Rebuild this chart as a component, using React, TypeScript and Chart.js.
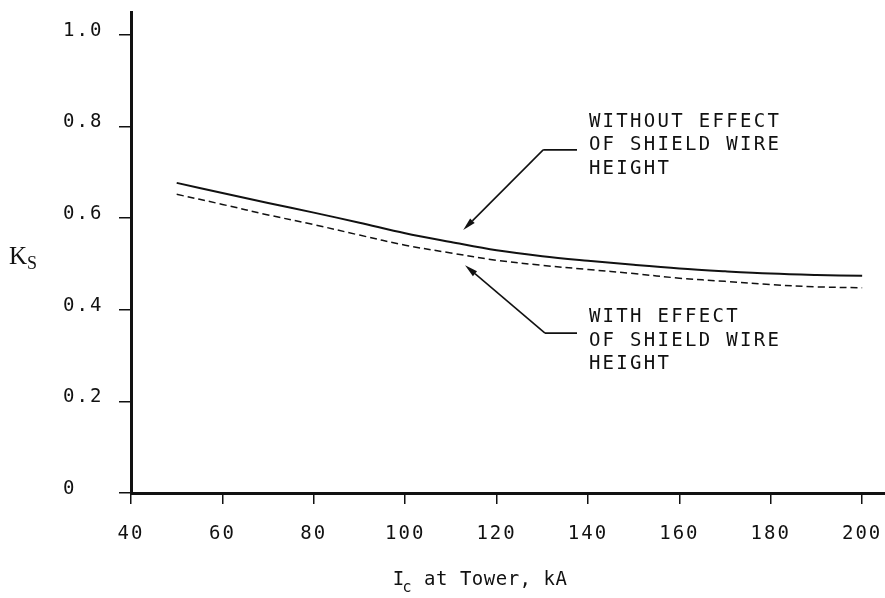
import React, { useEffect, useRef } from "react";
import { Chart, registerables } from "chart.js";

Chart.register(...registerables);

// Current at tower (kA) and shielding factor K_s
const currentKA = [50, 60, 70, 80, 90, 100, 110, 120, 130, 140, 150, 160, 170, 180, 190, 200];
const ksWithoutHeight = [0.677, 0.655, 0.633, 0.612, 0.59, 0.567, 0.548, 0.53, 0.517, 0.507, 0.498, 0.49, 0.484, 0.479, 0.476, 0.474];
const ksWithHeight = [0.652, 0.63, 0.607, 0.586, 0.563, 0.541, 0.524, 0.508, 0.497, 0.488, 0.479, 0.469, 0.462, 0.455, 0.45, 0.448];

const xTickValues = [40, 60, 80, 100, 120, 140, 160, 180, 200];
const yTickValues = [0, 0.2, 0.4, 0.6, 0.8, 1.0];

const labelWithout = ["WITHOUT EFFECT", "OF SHIELD WIRE", "HEIGHT"];
const labelWith = ["WITH EFFECT", "OF SHIELD WIRE", "HEIGHT"];

// Callout geometry in data units: [x (kA), y (K_s)]
const calloutWithout = { tip: [112.7, 0.574], elbow: [130.2, 0.749], tail: [137.6, 0.749], text: [140.2, 0.81] };
const calloutWith = { tip: [113.1, 0.497], elbow: [130.6, 0.349], tail: [137.6, 0.349], text: [140.2, 0.384] };

const INK = "#111111";
const MONO = "DejaVu Sans Mono";

function drawArrow(ctx: CanvasRenderingContext2D, fx: number, fy: number, tx: number, ty: number) {
  const ang = Math.atan2(ty - fy, tx - fx);
  const len = 13;
  const half = 3.2;
  const bx = tx - len * Math.cos(ang);
  const by = ty - len * Math.sin(ang);
  ctx.beginPath();
  ctx.moveTo(fx, fy);
  ctx.lineTo(bx, by);
  ctx.stroke();
  ctx.beginPath();
  ctx.moveTo(tx, ty);
  ctx.lineTo(bx + half * Math.sin(ang), by - half * Math.cos(ang));
  ctx.lineTo(bx - half * Math.sin(ang), by + half * Math.cos(ang));
  ctx.closePath();
  ctx.fill();
}

// Wide plotter-style spacing for the axis tick labels
const spacingPlugin = {
  id: "plotterSpacing",
  beforeUpdate(chart: any) {
    chart.ctx.letterSpacing = "2px";
  },
  beforeDraw(chart: any) {
    chart.ctx.letterSpacing = "2px";
  },
};

const annotationPlugin = {
  id: "figureNotes",
  afterDraw(chart: any) {
    const { ctx, scales } = chart;
    const xs = scales.x;
    const ys = scales.y;
    const px = (v: number) => xs.getPixelForValue(v);
    const py = (v: number) => ys.getPixelForValue(v);

    ctx.save();
    ctx.strokeStyle = INK;
    ctx.fillStyle = INK;
    ctx.lineWidth = 1.6;
    ctx.setLineDash([]);

    // callouts
    for (const c of [calloutWithout, calloutWith]) {
      ctx.beginPath();
      ctx.moveTo(px(c.tail[0]), py(c.tail[1]));
      ctx.lineTo(px(c.elbow[0]), py(c.elbow[1]));
      ctx.stroke();
      drawArrow(ctx, px(c.elbow[0]), py(c.elbow[1]), px(c.tip[0]), py(c.tip[1]));
    }

    ctx.font = `19px "${MONO}"`;
    ctx.letterSpacing = "2.3px";
    ctx.textAlign = "left";
    ctx.textBaseline = "middle";
    const lineGap = 23.5;
    labelWithout.forEach((t, i) => ctx.fillText(t, px(calloutWithout.text[0]), py(calloutWithout.text[1]) + i * lineGap));
    labelWith.forEach((t, i) => ctx.fillText(t, px(calloutWith.text[0]), py(calloutWith.text[1]) + i * lineGap));

    // x-axis title: I_c at Tower, kA
    ctx.letterSpacing = "0.5px";
    const titleY = 580;
    const main = "I";
    const sub = "c";
    const rest = " at Tower, kA";
    ctx.font = `19px "${MONO}"`;
    const wMain = ctx.measureText(main).width;
    const wRest = ctx.measureText(rest).width;
    ctx.font = `15px "${MONO}"`;
    const wSub = ctx.measureText(sub).width;
    const cx = xs.left + 350;
    let x = cx - (wMain + wSub + wRest) / 2;
    ctx.font = `19px "${MONO}"`;
    ctx.fillText(main, x, titleY);
    x += wMain - 2;
    ctx.font = `15px "${MONO}"`;
    ctx.fillText(sub, x, titleY + 8);
    x += wSub;
    ctx.font = `19px "${MONO}"`;
    ctx.fillText(rest, x, titleY);

    // y-axis title: K_s
    ctx.letterSpacing = "0px";
    ctx.textBaseline = "alphabetic";
    ctx.font = `25px "Liberation Serif"`;
    ctx.fillText("K", 9, 264);
    const wK = ctx.measureText("K").width;
    ctx.font = `18px "Liberation Serif"`;
    ctx.fillText("S", 9 + wK, 269);

    ctx.restore();
  },
};

export default function App() {
  const canvasRef = useRef<HTMLCanvasElement | null>(null);

  useEffect(() => {
    const canvas = canvasRef.current;
    if (!canvas) return;

    const toPoints = (ys: number[]) => currentKA.map((x, i) => ({ x, y: ys[i] }));

    const chart = new Chart(canvas, {
      type: "line",
      data: {
        datasets: [
          {
            label: "Without effect of shield wire height",
            data: toPoints(ksWithoutHeight),
            borderColor: INK,
            borderWidth: 2,
            pointRadius: 0,
            tension: 0.35,
            fill: false,
          },
          {
            label: "With effect of shield wire height",
            data: toPoints(ksWithHeight),
            borderColor: INK,
            borderWidth: 1.5,
            borderDash: [7, 4],
            pointRadius: 0,
            tension: 0.35,
            fill: false,
          },
        ],
      },
      options: {
        animation: false,
        responsive: false,
        maintainAspectRatio: false,
        devicePixelRatio: 1,
        layout: { padding: { left: 63, top: 12, right: 0, bottom: 0 } },
        plugins: {
          legend: { display: false },
          tooltip: { enabled: false },
          title: { display: false },
        },
        scales: {
          x: {
            type: "linear",
            min: 40,
            max: 205,
            afterBuildTicks: (scale: any) => {
              scale.ticks = xTickValues.map((value) => ({ value }));
            },
            afterFit: (scale: any) => {
              scale.height = 105;
              scale.paddingLeft = 0;
              scale.paddingRight = 0;
            },
            border: { display: true, color: INK, width: 3 },
            grid: { drawOnChartArea: false, drawTicks: true, tickLength: 11, color: INK, lineWidth: 1.5 },
            ticks: {
              color: INK,
              font: { family: MONO, size: 19 },
              padding: 19,
              maxRotation: 0,
              autoSkip: false,
              callback: (v: any) => String(v),
            },
          },
          y: {
            type: "linear",
            min: 0,
            max: 1.05,
            afterBuildTicks: (scale: any) => {
              scale.ticks = yTickValues.map((value) => ({ value }));
            },
            afterFit: (scale: any) => {
              scale.width = 68;
              scale.paddingTop = 0;
              scale.paddingBottom = 0;
            },
            border: { display: true, color: INK, width: 3 },
            grid: { drawOnChartArea: false, drawTicks: true, tickLength: 12, color: INK, lineWidth: 1.5 },
            ticks: {
              color: INK,
              font: { family: MONO, size: 19 },
              crossAlign: "far",
              labelOffset: -4,
              autoSkip: false,
              callback: (v: any) => (v === 0 ? "0" : Number(v).toFixed(1)),
            },
          },
        },
      },
      plugins: [spacingPlugin, annotationPlugin],
    } as any);

    return () => chart.destroy();
  }, []);

  return (
    <div style={{ position: "fixed", left: 0, top: 0, width: 885, height: 598, background: "#fff" }}>
      <canvas ref={canvasRef} width={885} height={598} style={{ width: 885, height: 598, display: "block" }} />
    </div>
  );
}
